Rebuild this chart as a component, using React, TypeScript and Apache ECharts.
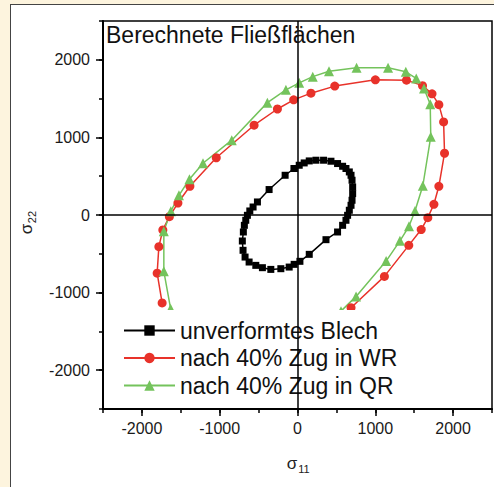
import React, { useEffect, useRef } from "react";
import * as echarts from "echarts";

// unverformtes Blech (closed loop)
const blechS11 = [-43, 22, 86, 151, 237, 335, 430, 515, 580, 623, 666, 688, 701, 709, 709, 701, 688, 666, 644, 623, 580, 515, 366, 151, 31, -43, -107, -214, -343, -451, -536, -622, -674, -700, -709, -696, -683, -665, -644, -613, -571, -515, -365, -159, -43];
const blechS22 = [599, 641, 671, 697, 706, 706, 693, 663, 628, 599, 555, 512, 448, 361, 276, 190, 125, 61, -4, -68, -133, -219, -318, -507, -597, -636, -671, -692, -701, -679, -649, -606, -542, -455, -335, -219, -133, -68, -4, 52, 103, 168, 328, 512, 599];

// nach 40% Zug in WR
const wrS11 = [688, 1117, 1430, 1590, 1675, 1753, 1817, 1890, 1878, 1817, 1729, 1607, 1401, 1001, 479, 173, -49, -258, -558, -1044, -1383, -1537, -1647, -1731, -1782, -1804, -1740];
const wrS22 = [-1195, -791, -391, -188, -34, 138, 370, 796, 1200, 1422, 1561, 1667, 1738, 1742, 1661, 1570, 1484, 1366, 1157, 738, 370, 154, -21, -192, -408, -750, -1133];

// nach 40% Zug in QR
const qrS11 = [559, 753, 1139, 1317, 1433, 1510, 1611, 1713, 1706, 1626, 1526, 1392, 1164, 759, 405, 196, 22, -149, -387, -845, -1215, -1389, -1524, -1628, -1718, -1718, -1631];
const qrS22 = [-1239, -1049, -594, -333, -146, 52, 377, 1009, 1428, 1631, 1760, 1845, 1897, 1897, 1852, 1783, 1703, 1613, 1448, 964, 667, 461, 254, 48, -210, -726, -1208];

const seriesNames = ["unverformtes Blech", "nach 40% Zug in WR", "nach 40% Zug in QR"];
const majorTicks = [-2000, -1000, 0, 1000, 2000];
const axisMin = -2500;
const axisMax = 2500;

export default function App() {
  const ref = useRef<HTMLDivElement>(null);
  useEffect(() => {
    const chart = echarts.init(ref.current!, null, { renderer: "svg" });
    const zip = (a: number[], b: number[]) => a.map((v, i) => [v, b[i]]);
    const font = "'Liberation Sans', Arial, Helvetica, sans-serif";

    const minorAxis = (pos: string) => ({
      type: "value",
      position: pos,
      min: axisMin,
      max: axisMax,
      interval: 500,
      axisLine: { show: true, onZero: false, lineStyle: { color: "#000", width: 2 } },
      axisTick: { show: true, inside: false, length: 4, lineStyle: { color: "#000", width: 1.5 } },
      axisLabel: { show: false },
      splitLine: { show: false },
    });
    const majorAxis = (pos: string, margin: number) => ({
      type: "value",
      position: pos,
      min: axisMin,
      max: axisMax,
      interval: 500,
      axisLine: { show: false, onZero: false },
      axisTick: { show: true, inside: false, length: 7, customValues: majorTicks, lineStyle: { color: "#000", width: 1.5 } },
      axisLabel: {
        show: true,
        customValues: majorTicks,
        formatter: (v: number) => String(v),
        margin,
        fontSize: 16,
        color: "#1a1a1a",
        fontFamily: font,
      },
      splitLine: { show: false },
    });

    chart.setOption({
      animation: false,
      backgroundColor: "transparent",
      title: {
        text: "Berechnete Fließflächen",
        left: 106,
        top: 23,
        padding: 0,
        textStyle: { fontSize: 23, fontWeight: "normal", color: "#111", fontFamily: font },
      },
      grid: {
        left: 103,
        right: 2,
        top: 21,
        bottom: 78,
        show: true,
        borderColor: "#000",
        borderWidth: 1.5,
        backgroundColor: "transparent",
      },
      xAxis: [minorAxis("bottom"), majorAxis("bottom", 11)],
      yAxis: [minorAxis("left"), majorAxis("left", 13)],
      legend: {
        orient: "vertical",
        left: 118,
        top: 310,
        padding: [9, 6, 4, 5],
        backgroundColor: "#fff",
        itemWidth: 51,
        itemHeight: 13,
        itemGap: 4.5,
        data: seriesNames,
        textStyle: { fontSize: 23, color: "#111", fontFamily: font, lineHeight: 23 },
      },
      graphic: [
        { type: "text", x: 292, y: 463, style: { text: "σ", fontSize: 17, fontFamily: font, fill: "#222", align: "center", verticalAlign: "middle" } },
        { type: "text", x: 304, y: 469, style: { text: "11", fontSize: 11, fontFamily: font, fill: "#222", align: "center", verticalAlign: "middle" } },
        { type: "text", x: 26, y: 229, rotation: Math.PI / 2, style: { text: "σ", fontSize: 17, fontFamily: font, fill: "#222", align: "center", verticalAlign: "middle" } },
        { type: "text", x: 32, y: 217, rotation: Math.PI / 2, style: { text: "22", fontSize: 11, fontFamily: font, fill: "#222", align: "center", verticalAlign: "middle" } },
      ],
      series: [
        {
          name: seriesNames[0],
          type: "line",
          data: zip(blechS11, blechS22),
          symbol: "rect",
          symbolSize: 7,
          showAllSymbol: true,
          lineStyle: { color: "#000", width: 1.5 },
          itemStyle: { color: "#000" },
          z: 3,
          markLine: {
            silent: true,
            symbol: ["none", "none"],
            label: { show: false },
            lineStyle: { color: "#000", width: 1.5, type: "solid" },
            data: [{ xAxis: 0 }, { yAxis: 0 }],
          },
        },
        {
          name: seriesNames[1],
          type: "line",
          data: zip(wrS11, wrS22),
          symbol: "circle",
          symbolSize: 9,
          showAllSymbol: true,
          lineStyle: { color: "#e8322a", width: 1.5 },
          itemStyle: { color: "#e8322a" },
        },
        {
          name: seriesNames[2],
          type: "line",
          data: zip(qrS11, qrS22),
          symbol: "triangle",
          symbolSize: 10,
          showAllSymbol: true,
          lineStyle: { color: "#74c35c", width: 1.5 },
          itemStyle: { color: "#74c35c" },
        },
      ],
    });
    return () => chart.dispose();
  }, []);

  return (
    <div style={{ position: "fixed", left: 0, top: 0, width: 494, height: 487, background: "#fdf4de", overflow: "hidden" }}>
      <div
        style={{
          position: "absolute",
          left: 10,
          top: 4,
          right: 0,
          bottom: 0,
          background: "#fff",
          borderLeft: "1px solid #444",
          borderTop: "1px solid #444",
        }}
      />
      <div ref={ref} style={{ position: "absolute", left: 0, top: 0, width: 494, height: 487 }} />
    </div>
  );
}
